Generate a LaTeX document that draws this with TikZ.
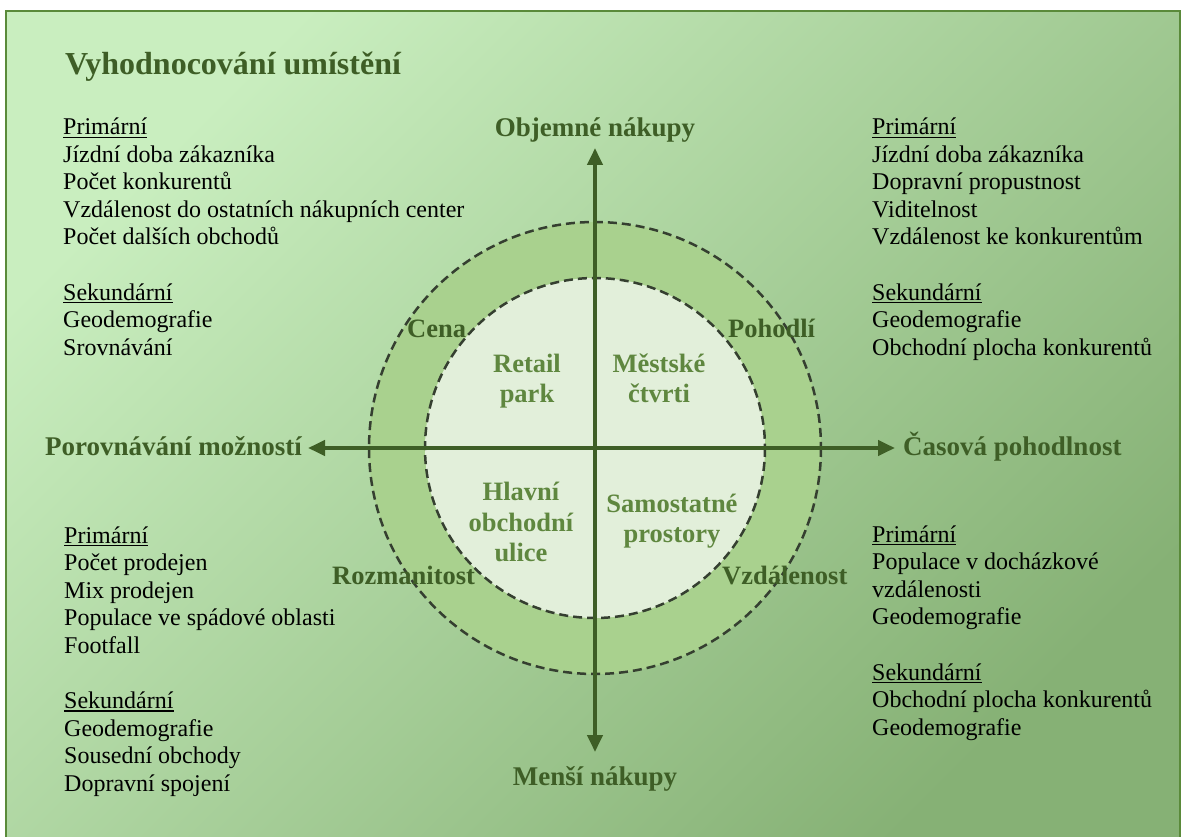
\documentclass[tikz,border=0pt]{standalone}
\usepackage{fontspec}
\setmainfont{Liberation Serif}
\usetikzlibrary{arrows.meta}
\definecolor{bgA}{HTML}{C9EEBF}
\definecolor{bgB}{HTML}{86B175}
\definecolor{framec}{HTML}{5A8A3A}
\definecolor{ringc}{HTML}{A9D18E}
\definecolor{innerc}{HTML}{E2EFDA}
\definecolor{dashc}{HTML}{353F30}
\definecolor{darkg}{HTML}{3E5E26}
\definecolor{midg}{HTML}{5F873F}
\newcommand{\ulx}[1]{\setbox0\hbox{#1}\rlap{\rule[-3pt]{\wd0}{1.2pt}}\box0}
\begin{document}
\begin{tikzpicture}[x=1pt,y=-1pt,
  body/.style={font=\fontsize{24}{27.5}\selectfont, text=black, anchor=base west, inner sep=0pt},
  titletext/.style={font=\fontsize{32}{36}\selectfont\bfseries, text=darkg, anchor=base west, inner sep=0pt},
  axlabel/.style={font=\fontsize{27}{30}\selectfont\bfseries, text=darkg, inner sep=0pt},
  ringlabel/.style={font=\fontsize{26.5}{30}\selectfont\bfseries, text=darkg, anchor=base west, inner sep=0pt},
  quadlabel/.style={font=\fontsize{26.5}{30}\selectfont\bfseries, text=midg, anchor=base, inner sep=0pt},
  axisline/.style={draw=darkg, line width=4pt, {Triangle[length=17pt,width=15pt]}-{Triangle[length=17pt,width=15pt]}},
  dashring/.style={draw=dashc, line width=2.5pt, dash pattern=on 9pt off 5pt}]
\useasboundingbox (0,0) rectangle (1181,837);
\clip (0,0) rectangle (1181,837);
% background panel
\shade[top color=bgA, bottom color=bgB, shading angle=45] (6,11) rectangle (1180,850);
\draw[framec, line width=2.5pt] (6,11) rectangle (1180,850);
% title
\node[titletext] (title) at (65,75) {Vyhodnocování umístění};
% circles
\coordinate (c) at (595,448);
\fill[ringc] (c) circle (226);
\fill[innerc] (c) circle (170);
\draw[dashring] (c) circle (226);
\draw[dashring] (c) circle (170);
% axes
\coordinate (atop) at (595,148);
\coordinate (abot) at (595,752);
\coordinate (aleft) at (308,448);
\coordinate (aright) at (895,448);
\draw[axisline] (aleft) -- (aright);
\draw[axisline] (atop) -- (abot);
% axis labels
\node[axlabel, anchor=base] (objem) at (595,137) {Objemné nákupy};
\node[axlabel, anchor=base] (mensi) at (595,785) {Menší nákupy};
\node[axlabel, anchor=base east] (porov) at (302,455) {Porovnávání možností};
\node[axlabel, anchor=base west] (casova) at (903,455) {Časová pohodlnost};
% ring labels
\node[ringlabel] (cena) at (407,337) {Cena};
\node[ringlabel] (pohodli) at (728,337) {Pohodlí};
\node[ringlabel] (rozman) at (332,584) {Rozmanitost};
\node[ringlabel] (vzdal) at (722,584) {Vzdálenost};
% quadrant labels
\node[quadlabel] (q1a) at (527,372) {Retail};
\node[quadlabel] (q1b) at (527,402) {park};
\node[quadlabel] (q2a) at (659,372) {Městské};
\node[quadlabel] (q2b) at (659,402) {čtvrti};
\node[quadlabel] (q3a) at (521,500) {Hlavní};
\node[quadlabel] (q3b) at (521,531) {obchodní};
\node[quadlabel] (q3c) at (521,561) {ulice};
\node[quadlabel] (q4a) at (672,512) {Samostatné};
\node[quadlabel] (q4b) at (672,542) {prostory};
% text blocks
\foreach \yy/\mytext [count=\i] in {135/{\ulx{Primární}}, 162.5/{Jízdní doba zákazníka}, 190/{Počet konkurentů}, 217.5/{Vzdálenost do ostatních nákupních center}, 245/{Počet dalších obchodů}, 300/{\ulx{Sekundární}}, 327.5/{Geodemografie}, 355/{Srovnávání}}
  \node[body] (tl\i) at (63,\yy) {\mytext};
\foreach \yy/\mytext [count=\i] in {135/{\ulx{Primární}}, 162.5/{Jízdní doba zákazníka}, 190/{Dopravní propustnost}, 217.5/{Viditelnost}, 245/{Vzdálenost ke konkurentům}, 300/{\ulx{Sekundární}}, 327.5/{Geodemografie}, 355/{Obchodní plocha konkurentů}}
  \node[body] (tr\i) at (872,\yy) {\mytext};
\foreach \yy/\mytext [count=\i] in {543/{\ulx{Primární}}, 570.5/{Počet prodejen}, 598/{Mix prodejen}, 625.5/{Populace ve spádové oblasti}, 653/{Footfall}, 708.5/{\ulx{Sekundární}}, 736/{Geodemografie}, 763.5/{Sousední obchody}, 791/{Dopravní spojení}}
  \node[body] (bl\i) at (64,\yy) {\mytext};
\foreach \yy/\mytext [count=\i] in {542/{\ulx{Primární}}, 569.5/{Populace v docházkové}, 597/{vzdálenosti}, 624.5/{Geodemografie}, 680/{\ulx{Sekundární}}, 707.5/{Obchodní plocha konkurentů}, 735/{Geodemografie}}
  \node[body] (br\i) at (872,\yy) {\mytext};
\end{tikzpicture}
\end{document}
